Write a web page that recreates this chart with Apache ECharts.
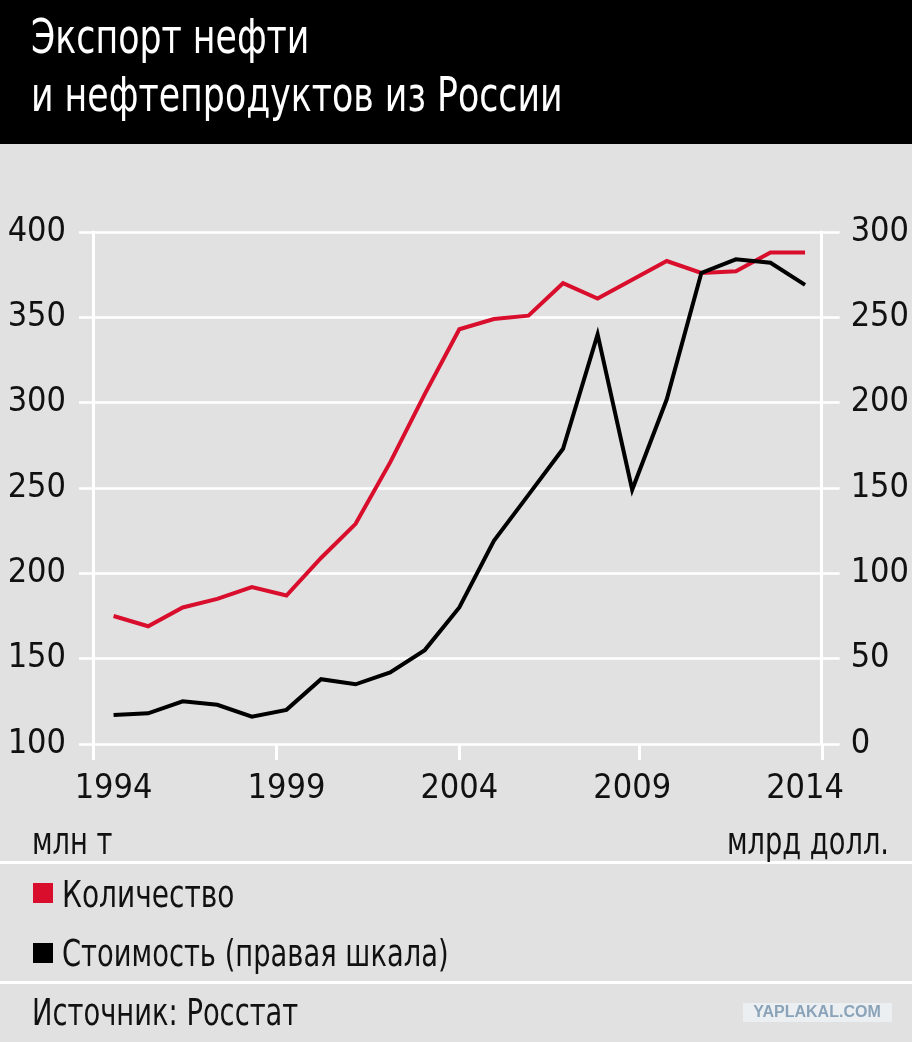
<!DOCTYPE html>
<html>
<head>
<meta charset="utf-8">
<script src="https://cdn.jsdelivr.net/npm/echarts@6/dist/echarts.min.js"></script>
<style>
html,body{margin:0;padding:0;background:#e1e1e1;}
#chart{width:912px;height:1042px;}
</style>
</head>
<body>
<div id="chart"></div>
<script>
var FONT = '"DejaVu Sans Condensed","Roboto",sans-serif';

var years = [1994,1995,1996,1997,1998,1999,2000,2001,2002,2003,2004,2005,2006,2007,2008,2009,2010,2011,2012,2013,2014];
var volume = [175,169,180,185,192,187,209,229,265,305,343,349,351,370,361,372,383,376,377,388,388];
var valueUsd = [17,18,25,23,16,20,38,35,42,55,80,119,146,173,240,149,202,276,284,282,269];
var yearLabels = ['1994','1999','2004','2009','2014'];
var leftTicks = ['100','150','200','250','300','350','400'];
var rightTicks = ['0','50','100','150','200','250','300'];
var tickMarks = [1993.4, 1998.7, 2004, 2009.2, 2014.5];

var seriesNames = ['Количество', 'Стоимость (правая шкала)'];
var seriesColors = ['#d90d2c', '#000000'];

function pairs(xs, ys){ return xs.map(function(x,i){ return [x, ys[i]]; }); }

function txt(t, x, y, size, opts){
  opts = opts || {};
  return {type:'text', x:x, y:y, scaleX: opts.sx || 0.82, z: 10,
    style:{text:t, font: size+'px '+FONT, fill: opts.fill || '#111', align: opts.align || 'left', verticalAlign:'middle'}};
}

var chart = echarts.init(document.getElementById('chart'), null, {renderer:'canvas'});
chart.setOption({
  backgroundColor: '#e1e1e1',
  animation: false,
  textStyle: {fontFamily: FONT},
  graphic: [
    {type:'rect', x:0, y:0, shape:{width:912, height:144}, style:{fill:'#000'}, z:-1},
    txt('Экспорт нефти', 31, 41, 48, {fill:'#ffffff', sx:0.805}),
    txt('и нефтепродуктов из России', 31, 99, 48, {fill:'#ffffff', sx:0.805}),
    {type:'rect', x:0, y:861, shape:{width:912, height:3}, style:{fill:'#ffffff'}},
    {type:'rect', x:0, y:981, shape:{width:912, height:3}, style:{fill:'#ffffff'}},
    txt('млн т', 32, 844, 37),
    txt('млрд долл.', 889, 844, 37, {align:'right'}),
    {type:'rect', x:33, y:883, shape:{width:20, height:20}, style:{fill:seriesColors[0]}},
    txt(seriesNames[0], 62, 897, 38),
    {type:'rect', x:33, y:943, shape:{width:20, height:20}, style:{fill:seriesColors[1]}},
    txt(seriesNames[1], 62, 956, 38, {sx:0.8}),
    txt('Источник: Росстат', 32, 1015, 38, {sx:0.8}),
    {type:'rect', x:743, y:1003, shape:{width:149, height:19}, style:{fill:'#eceff2'}},
    {type:'text', x:817, y:1013, style:{text:'YAPLAKAL.COM', font:'bold 16px "Liberation Sans","DejaVu Sans",sans-serif', fill:'#8aa3b8', align:'center', verticalAlign:'middle'}}
  ],
  grid: {left:79, right:72, top:232, bottom:298, containLabel:false},
  xAxis: [{
    type:'value', min:1993, max:2015, interval:1,
    axisLine:{show:false},
    axisTick:{show:true, inside:false, length:16, customValues: tickMarks, lineStyle:{color:'#ffffff', width:3}},
    splitLine:{show:false},
    axisLabel:{
      customValues: years.filter(function(y){ return yearLabels.indexOf(String(y))>=0; }),
      formatter:function(v){ var s=String(Math.round(v)); return yearLabels.indexOf(s)>=0 ? s : ''; },
      fontFamily: FONT, fontSize:34, color:'#111', margin:28
    }
  }],
  yAxis: [{
    type:'value', position:'left', min:100, max:400, interval:50, offset:-14,
    axisLine:{show:true, lineStyle:{color:'#ffffff', width:3}},
    axisTick:{show:false},
    splitLine:{show:true, lineStyle:{color:'#ffffff', width:2.5}},
    axisLabel:{formatter:function(v){ var s=String(v); return leftTicks.indexOf(s)>=0?s:''; }, fontFamily: FONT, fontSize:34, color:'#111', margin:27}
  },{
    type:'value', position:'right', min:0, max:300, interval:50, offset:-18,
    axisLine:{show:true, lineStyle:{color:'#ffffff', width:3}},
    axisTick:{show:false},
    splitLine:{show:false},
    axisLabel:{formatter:function(v){ var s=String(v); return rightTicks.indexOf(s)>=0?s:''; }, fontFamily: FONT, fontSize:34, color:'#111', margin:29}
  }],
  series: [{
    name: seriesNames[0], type:'line', xAxisIndex:0, yAxisIndex:0,
    data: pairs(years, volume), symbol:'none',
    itemStyle:{color:seriesColors[0]},
    lineStyle:{color:seriesColors[0], width:4, join:'miter'}, z:3
  },{
    name: seriesNames[1], type:'line', xAxisIndex:0, yAxisIndex:1,
    data: pairs(years, valueUsd), symbol:'none',
    itemStyle:{color:seriesColors[1]},
    lineStyle:{color:seriesColors[1], width:4, join:'miter'}, z:4
  }]
});
</script>
</body>
</html>
